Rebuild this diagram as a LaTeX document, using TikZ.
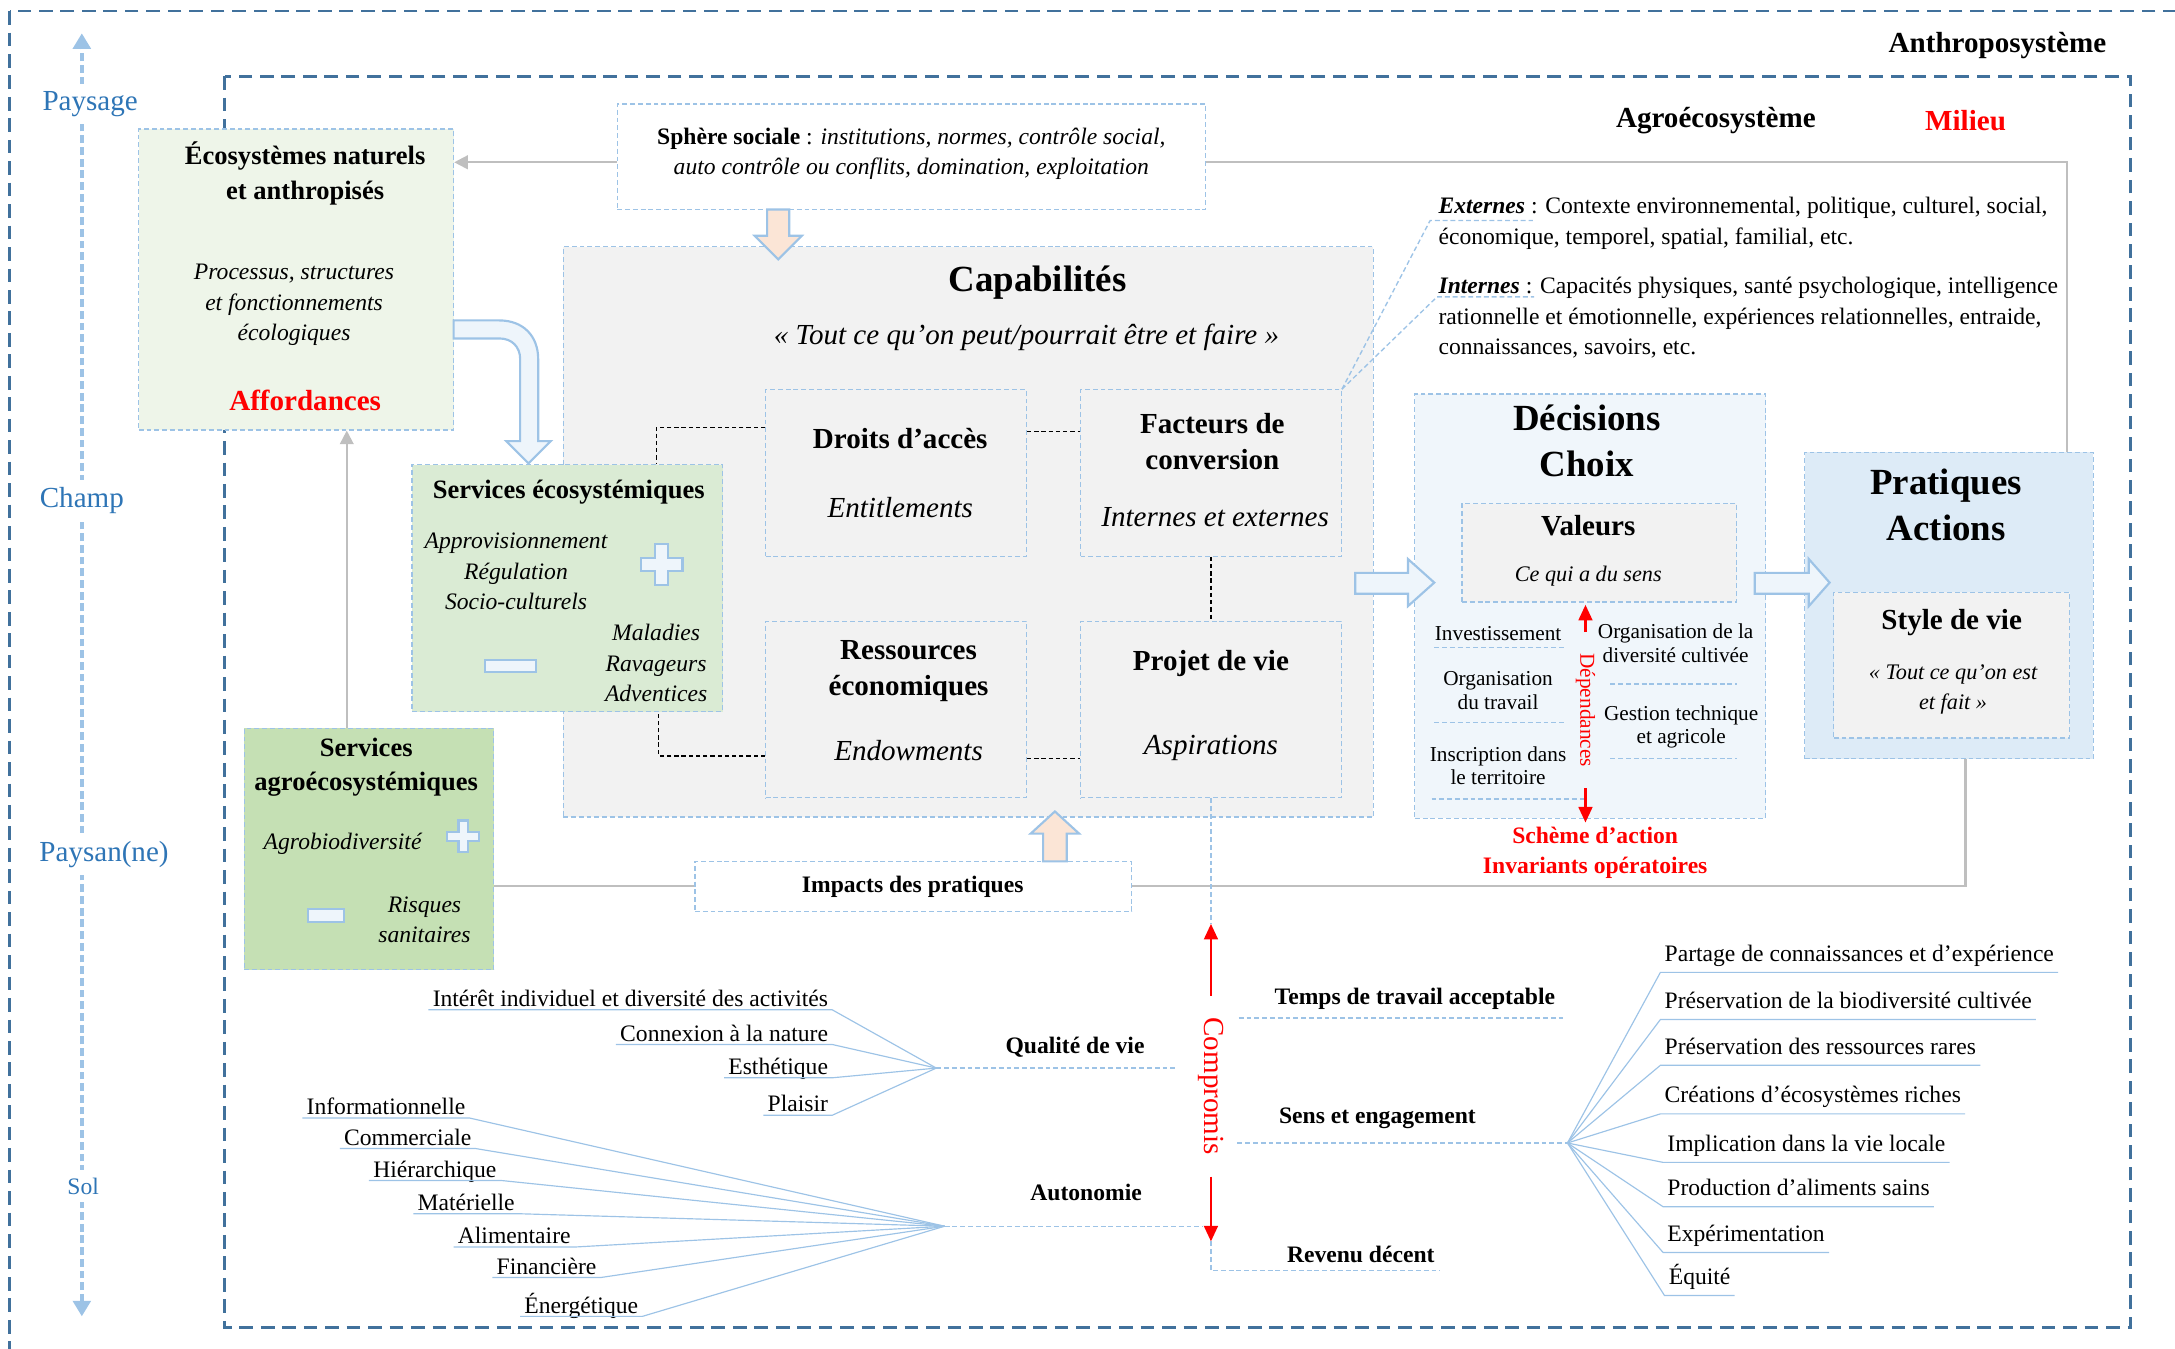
\documentclass[tikz,border=0pt]{standalone}
\usepackage{fontspec}
\setmainfont{Liberation Serif}
\usetikzlibrary{positioning,fit,arrows.meta}

\definecolor{lineblue}{HTML}{9DC3E6}
\definecolor{frameblue}{HTML}{41719C}
\definecolor{axisblue}{HTML}{2E75B6}
\definecolor{linkgray}{HTML}{BFBFBF}
\definecolor{ecogreen}{HTML}{EEF5E9}
\definecolor{servgreen}{HTML}{DAEBD4}
\definecolor{agrogreen}{HTML}{C5E0B4}
\definecolor{capgray}{HTML}{F2F2F2}
\definecolor{decblue}{HTML}{F0F6FB}
\definecolor{pratblue}{HTML}{DDEBF7}
\definecolor{peach}{HTML}{FBE5D6}
\definecolor{arrowfill}{HTML}{EEF5FB}

\newcommand{\fhuge}{\fontsize{18.9}{23.5}\selectfont}
\newcommand{\flarge}{\fontsize{14.9}{18.5}\selectfont}
\newcommand{\fmid}{\fontsize{13.6}{17.5}\selectfont}
\newcommand{\fnorm}{\fontsize{12.1}{15.6}\selectfont}
\newcommand{\fquote}{\fontsize{11.4}{15}\selectfont}
\newcommand{\fsmall}{\fontsize{10.9}{12.2}\selectfont}

\tikzset{
  zone/.style={draw=lineblue, dash pattern=on 2.5pt off 1.5pt, line width=0.6pt, inner sep=0pt},
  sysframe/.style={draw=frameblue, dash pattern=on 7pt off 4pt, line width=1.4pt},
  tie/.style={draw=black, dash pattern=on 2.2pt off 1.5pt, line width=0.6pt},
  dashline/.style={draw=lineblue, dash pattern=on 2.5pt off 1.5pt, line width=0.7pt},
  link/.style={draw=linkgray, line width=1.1pt},
  linkarrow/.style={link, -{Triangle[length=7pt,width=7pt]}},
  redarrow/.style={draw=red, line width=1.4pt, -{Triangle[length=8pt,width=7pt]}},
  fan/.style={draw=lineblue, line width=0.6pt},
  fanitem/.style={font=\fnorm, inner xsep=2pt, inner ysep=1.5pt, text depth=0pt},
  fanitemr/.style={font=\fnorm, inner xsep=2pt, inner ysep=2.8pt, text depth=2.7pt},
  bigarrow/.style={draw=lineblue, line width=1.1pt, fill=arrowfill},
  peacharrow/.style={bigarrow, fill=peach},
  sign/.style={draw=lineblue, line width=1.1pt, fill=arrowfill},
  scaleaxis/.style={draw=lineblue, dash pattern=on 4pt off 2pt, line width=2pt,
    {Triangle[length=8pt,width=9pt]}-{Triangle[length=8pt,width=9pt]}},
  scalelabel/.style={fill=white, text=axisblue, font=\flarge, inner sep=4pt},
  boxtitle/.style={font=\bfseries\flarge, align=center},
  boxtext/.style={font=\itshape\fnorm, align=center},
}

\begin{document}
\begin{tikzpicture}[x=0.025cm, y=-0.025cm]
\useasboundingbox (0,0) rectangle (1568,972);
\clip (0,0) rectangle (1568,972);

% systems
\draw[sysframe] (7,8) rectangle (1585,990);
\draw[sysframe] (162,55) rectangle (1536,957);
\node[font=\bfseries\flarge] (anthro) at (1440,33) {Anthroposystème};
\node[font=\bfseries\flarge] (agro) at (1237,87) {Agroécosystème};
\node[font=\bfseries\flarge, text=red] (milieu) at (1417,87) {Milieu};

% scales
\coordinate (axtop) at (59,24);
\coordinate (axbot) at (59,949);
\draw[scaleaxis] (axbot) -- (axtop);
\node[scalelabel] (paysage) at (65,75) {Paysage};
\node[scalelabel] (champ) at (59,361) {Champ};
\node[scalelabel] (paysan) at (75,616) {Paysan(ne)};
\node[scalelabel, font=\fnorm] (sol) at (60,855) {Sol};

% ecosystems
\node[zone, fill=ecogreen, fit={(100,93)(327,310)}] (eco) {};
\node[boxtitle, font=\bfseries\fmid] at (220,125) {Écosystèmes naturels\\et anthropisés};
\node[boxtext] at (212,220) {Processus, structures\\et fonctionnements\\écologiques};
\node[boxtitle, text=red] at (220,289) {Affordances};

% social sphere
\node[zone, fill=white, fit={(445,75)(869,151)}] (sphere) {};
\node[align=center, font=\fnorm] at (657,111)
  {\textbf{Sphère sociale} : \textit{institutions, normes, contrôle social,}\\
   \textit{auto contrôle ou conflits, domination, exploitation}};

% capabilities
\node[zone, fill=capgray, fit={(406,178)(990,589)}] (cap) {};
\node[font=\bfseries\fhuge] at (748,204) {Capabilités};
\node[font=\itshape\flarge] at (740,243) {« Tout ce qu’on peut/pourrait être et faire »};

\node[zone, fill=capgray, fit={(552,281)(740,401)}] (droits) {};
\node[boxtitle] at (649,316) {Droits d’accès};
\node[font=\itshape\flarge] at (649,366) {Entitlements};

\node[zone, fill=capgray, fit={(779,281)(967,401)}] (facteurs) {};
\node[boxtitle] at (874,318) {Facteurs de\\conversion};
\node[font=\itshape\flarge] at (876,373) {Internes et externes};

\node[zone, fill=capgray, fit={(552,448)(740,575)}] (ressources) {};
\node[boxtitle] at (655,484) {Ressources\\économiques};
\node[font=\itshape\flarge] at (655,541) {Endowments};

\node[zone, fill=capgray, fit={(779,448)(967,575)}] (projet) {};
\node[boxtitle] at (873,478) {Projet de vie};
\node[font=\itshape\flarge] at (873,539) {Aspirations};

% services
\node[zone, fill=servgreen, fit={(297,335)(521,513)}] (serveco) {};
\node[font=\bfseries\fmid] at (410,355) {Services écosystémiques};
\node[boxtext] at (372,412) {Approvisionnement\\Régulation\\Socio-culturels};
\node[boxtext] at (473,478) {Maladies\\Ravageurs\\Adventices};
\draw[sign] (477,407) +(-4.5,-15) -- +(4.5,-15) -- +(4.5,-4.5) -- +(15,-4.5) -- +(15,4.5)
  -- +(4.5,4.5) -- +(4.5,15) -- +(-4.5,15) -- +(-4.5,4.5) -- +(-15,4.5) -- +(-15,-4.5)
  -- +(-4.5,-4.5) -- cycle;
\draw[sign] (368,480) +(-18.5,-4.5) rectangle +(18.5,4.5);

\node[zone, fill=agrogreen, fit={(176,525)(356,699)}] (servagro) {};
\node[font=\bfseries\fmid, align=center] at (264,553) {Services\\agroécosystémiques};
\node[boxtext] at (247,608) {Agrobiodiversité};
\node[boxtext] at (306,663) {Risques\\sanitaires};
\draw[sign] (334,603) +(-3.5,-11.5) -- +(3.5,-11.5) -- +(3.5,-3.5) -- +(11.5,-3.5) -- +(11.5,3.5)
  -- +(3.5,3.5) -- +(3.5,11.5) -- +(-3.5,11.5) -- +(-3.5,3.5) -- +(-11.5,3.5) -- +(-11.5,-3.5)
  -- +(-3.5,-3.5) -- cycle;
\draw[sign] (235,660) +(-13,-4.5) rectangle +(13,4.5);

% decisions
\node[zone, fill=decblue, fit={(1020,284)(1273,590)}] (dec) {};
\node[font=\bfseries\fhuge, align=center] at (1144,318) {Décisions\\Choix};
\node[zone, fill=capgray, fit={(1054,363)(1252,434)}] (val) {};
\node[boxtitle] at (1145,379) {Valeurs};
\node[font=\itshape\fquote] at (1145,415) {Ce qui a du sens};
\node[font=\fsmall] (invest) at (1080,457) {Investissement};
\node[font=\fsmall, align=center] (orgtrav) at (1080,498) {Organisation\\du travail};
\node[font=\fsmall, align=center] (inscr) at (1080,552) {Inscription dans\\le territoire};
\node[font=\fsmall, align=center] (orgdiv) at (1208,464) {Organisation de la\\diversité cultivée};
\node[font=\fsmall, align=center] (gestion) at (1212,524) {Gestion technique\\et agricole};
\draw[dashline] (1034,467) -- (1129,467);
\draw[dashline] (1034,521) -- (1129,521);
\draw[dashline] (1032,576) -- (1142,576);
\draw[dashline] (1161,493) -- (1252,493);
\draw[dashline] (1161,547) -- (1252,547);
\coordinate (dtop) at (1143,436);
\coordinate (dbot) at (1143,593);
\node[rotate=-90, font=\fsmall, text=red, inner xsep=10.8pt] (dep) at (1143,512) {Dépendances};
\draw[redarrow] (dep.west) -- (dtop);
\draw[redarrow] (dep.east) -- (dbot);
\node[font=\bfseries\fnorm, text=red, align=center] (scheme) at (1150,615) {Schème d’action\\Invariants opératoires};

% practices
\node[zone, fill=pratblue, fit={(1301,326)(1509,547)}] (prat) {};
\node[font=\bfseries\fhuge, align=center] at (1403,364) {Pratiques\\Actions};
\node[zone, fill=capgray, fit={(1322,427)(1492,532)}] (style) {};
\node[boxtitle] at (1407,449) {Style de vie};
\node[font=\itshape\fquote, align=center] at (1408,497) {« Tout ce qu’on est\\et fait »};

% conversion factors
\node[anchor=west, align=left, font=\fnorm, inner sep=2pt] (ext) at (1034,161)
  {\textbf{\textit{Externes}} : Contexte environnemental, politique, culturel, social,\\
   économique, temporel, spatial, familial, etc.};
\node[anchor=west, align=left, font=\fnorm, inner sep=2pt] (int) at (1034,229)
  {\textbf{\textit{Internes}} : Capacités physiques, santé psychologique, intelligence\\
   rationnelle et émotionnelle, expériences relationnelles, entraide,\\
   connaissances, savoirs, etc.};
\coordinate (extA) at (1031,159);
\coordinate (extB) at (1105,159);
\coordinate (intA) at (1036,214);
\coordinate (intB) at (1106,214);
\draw[dashline] (facteurs.north east) -- (extA) -- (extB);
\draw[dashline] (facteurs.north east) -- (intA) -- (intB);

% impacts
\node[zone, fill=white, fit={(501,621)(816,657)}] (impacts) {};
\node[font=\bfseries\fnorm] at (658,639) {Impacts des pratiques};

% links
\draw[linkarrow] ([yshift=-0.1cm]sphere.west) -- ([yshift=-0.1cm]eco.east |- sphere.west);
\draw[link] ([yshift=-0.1cm]sphere.east) -| ([xshift=-0.475cm]prat.north east);
\draw[linkarrow] ([xshift=-0.4cm]servagro.north) -- ([xshift=-0.4cm]servagro.north |- eco.south);
\draw[link] (servagro.east |- impacts.west) -- (impacts.west);
\draw[link] (impacts.east) -| ([xshift=0.3cm]prat.south);

\draw[tie] (droits.west |- 0,308) -| (serveco.north -| 473,0);
\draw[tie] (droits.east |- 0,311) -- (facteurs.west |- 0,311);
\draw[tie] (facteurs.south) -- (projet.north);
\draw[tie] (ressources.west |- 0,545) -| (serveco.south -| 475,0);
\draw[tie] (ressources.east |- 0,547) -- (projet.west |- 0,547);

% block arrows
\draw[peacharrow] (553,151) -- (569,151) -- (569,170) -- (578,170) -- (561,187) -- (544,170) -- (553,170) -- cycle;
\draw[peacharrow] (752,621) -- (752,601) -- (743,601) -- (760.5,585) -- (778,601) -- (769,601) -- (769,621) -- cycle;
\draw[bigarrow] (327,231) -- (360,231) .. controls (377,231) and (388,242) .. (388,259) -- (388,318)
  -- (397,318) -- (381,334) -- (365,318) -- (375,318) -- (375,259)
  .. controls (375,250) and (369,244) .. (360,244) -- (327,244) -- cycle;
\draw[bigarrow] (977,413) -- (1015,413) -- (1015,403) -- (1034,420) -- (1015,437) -- (1015,428) -- (977,428) -- cycle;
\draw[bigarrow] (1265,413) -- (1304,413) -- (1304,403) -- (1319,420) -- (1304,437) -- (1304,428) -- (1265,428) -- cycle;

% compromise
\coordinate (cup) at (873,666);
\coordinate (cdown) at (873,895);
\coordinate (revEnd) at (1038,916);
\draw[dashline] (projet.south) -- (cup);
\node[rotate=-90, text=red, font=\flarge, inner xsep=11pt] (comp) at (873,783) {Compromis};
\draw[redarrow] (comp.west) -- (cup);
\draw[redarrow] (comp.east) -- (cdown);
\draw[dashline] (cdown) |- (revEnd);

\node[font=\bfseries\fnorm] (temps) at (1020,720) {Temps de travail acceptable};
\draw[dashline] (893,734) -- (1127,734);
\node[font=\bfseries\fnorm] (sens) at (993,806) {Sens et engagement};
\coordinate (hubS) at (1130,824);
\draw[dashline] (892,824) -- (hubS);
\node[font=\bfseries\fnorm] (qual) at (775,755) {Qualité de vie};
\coordinate (hubQ) at (675,770);
\draw[dashline] (hubQ) -- (849,770);
\node[font=\bfseries\fnorm] (autonomie) at (783,860) {Autonomie};
\coordinate (hubA) at (681,884);
\draw[dashline] (hubA) -- (867,884);
\node[font=\bfseries\fnorm] (rev) at (981,904) {Revenu décent};

% quality of life
\node[fanitem, anchor=south east] (q1) at (600,728) {Intérêt individuel et diversité des activités};
\node[fanitem, anchor=south east] (q2) at (600,753) {Connexion à la nature};
\node[fanitem, anchor=south east] (q3) at (600,777) {Esthétique};
\node[fanitem, anchor=south east] (q4) at (600,804) {Plaisir};
\draw[fan] (q1.south west) -- (q1.south east) -- (hubQ);
\draw[fan] (q2.south west) -- (q2.south east) -- (hubQ);
\draw[fan] (q3.south west) -- (q3.south east) -- (hubQ);
\draw[fan] (q4.south west) -- (q4.south east) -- (hubQ);

% autonomy
\node[fanitem, anchor=south west] (a1) at (218,806) {Informationnelle};
\node[fanitem, anchor=south west] (a2) at (245,828) {Commerciale};
\node[fanitem, anchor=south west] (a3) at (266,851) {Hiérarchique};
\node[fanitem, anchor=south west] (a4) at (298,875) {Matérielle};
\node[fanitem, anchor=south west] (a5) at (327,899) {Alimentaire};
\node[fanitem, anchor=south west] (a6) at (355,921) {Financière};
\node[fanitem, anchor=south west] (a7) at (375,949) {Énergétique};
\draw[fan] (a1.south west) -- (a1.south east) -- (hubA);
\draw[fan] (a2.south west) -- (a2.south east) -- (hubA);
\draw[fan] (a3.south west) -- (a3.south east) -- (hubA);
\draw[fan] (a4.south west) -- (a4.south east) -- (hubA);
\draw[fan] (a5.south west) -- (a5.south east) -- (hubA);
\draw[fan] (a6.south west) -- (a6.south east) -- (hubA);
\draw[fan] (a7.south west) -- (a7.south east) -- (hubA);

% meaning and commitment
\node[fanitemr, anchor=south west] (r1) at (1197,701) {Partage de connaissances et d’expérience};
\node[fanitemr, anchor=south west] (r2) at (1197,735) {Préservation de la biodiversité cultivée};
\node[fanitemr, anchor=south west] (r3) at (1197,768) {Préservation des ressources rares};
\node[fanitemr, anchor=south west] (r4) at (1197,803) {Créations d’écosystèmes riches};
\node[fanitemr, anchor=south west] (r5) at (1199,838) {Implication dans la vie locale};
\node[fanitemr, anchor=south west] (r6) at (1199,870) {Production d’aliments sains};
\node[fanitemr, anchor=south west] (r7) at (1199,903) {Expérimentation};
\node[fanitemr, anchor=south west] (r8) at (1200,934) {Équité};
\draw[fan] (hubS) -- (r1.south west) -- (r1.south east);
\draw[fan] (hubS) -- (r2.south west) -- (r2.south east);
\draw[fan] (hubS) -- (r3.south west) -- (r3.south east);
\draw[fan] (hubS) -- (r4.south west) -- (r4.south east);
\draw[fan] (hubS) -- (r5.south west) -- (r5.south east);
\draw[fan] (hubS) -- (r6.south west) -- (r6.south east);
\draw[fan] (hubS) -- (r7.south west) -- (r7.south east);
\draw[fan] (hubS) -- (r8.south west) -- (r8.south east);
\end{tikzpicture}
\end{document}
